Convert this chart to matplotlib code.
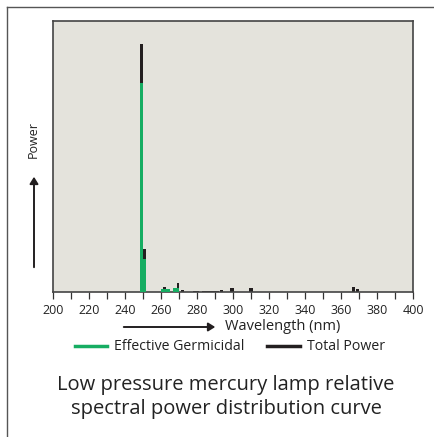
import numpy as np
import matplotlib
matplotlib.use("Agg")
import matplotlib.pyplot as plt
from matplotlib.lines import Line2D

plt.rcParams['font.family'] = ['Open Sans', 'DejaVu Sans']

# spectral lines (nm, relative power, band width nm)
total_wl = [249, 251, 262, 264, 269.5, 272, 279.5, 287.5, 293.5, 299.5, 310, 367, 369]
total_pw = [91.5, 16, 1.7, 0.6, 3.4, 0.8, 0.4, 0.4, 0.9, 1.6, 1.6, 2.0, 1.2]
total_bw = [1.6, 1.6, 1.4, 1.5, 1.5, 1.6, 3.0, 9.0, 1.5, 2.0, 2.0, 2.0, 1.5]

germ_wl = [249, 251, 262.5, 268.5]
germ_pw = [77, 12, 1.0, 1.5]
germ_bw = [1.6, 1.5, 5.0, 3.5]

xticks = np.arange(200, 401, 10)
xlabels = [str(t) if t % 20 == 0 else '' for t in xticks]

green = '#16ad62'
black = '#231f20'

fig = plt.figure(figsize=(4.35, 4.37), dpi=100)
ax = fig.add_axes([53/435, 1-292/437, 360/435, 271/437])
ax.set_facecolor('#e4e3dc')

ax.bar(total_wl, total_pw, width=total_bw, color=black, linewidth=0, zorder=2)
ax.bar(germ_wl, germ_pw, width=germ_bw, color=green, linewidth=0, zorder=3)

ax.set_xlim(200, 400)
ax.set_ylim(0, 100)
ax.set_xticks(xticks)
ax.set_xticklabels(xlabels, fontsize=9, color='#222222')
ax.set_yticks([])
ax.tick_params(axis='x', direction='out', length=5, width=0.9, color='#333333', pad=4)
for s in ax.spines.values():
    s.set_color('#444444')
    s.set_linewidth(1.2)

# outer frame (open on right/bottom, cropped)
fig.add_artist(Line2D([7/435, 7/435], [0, 1-7/437], transform=fig.transFigure,
                      color='#555555', lw=1))
fig.add_artist(Line2D([7/435, 1], [1-7/437, 1-7/437], transform=fig.transFigure,
                      color='#555555', lw=1))

# y axis arrow and label
fig.add_artist(matplotlib.patches.FancyArrowPatch(
    (34/435, 1-270/437), (34/435, 1-174/437), transform=fig.transFigure,
    arrowstyle='-|>,head_length=4,head_width=2.5', color=black, lw=1.4))
fig.text(33/435, 1-139/437, 'Power', rotation=90, ha='center', va='center',
         fontsize=9, color='#222222')

# x axis arrow and label
fig.add_artist(matplotlib.patches.FancyArrowPatch(
    (121/435, 1-327/437), (218/435, 1-327/437), transform=fig.transFigure,
    arrowstyle='-|>,head_length=4,head_width=2.5', color=black, lw=1.4))
fig.text(225/435, 1-326/437, 'Wavelength (nm)', ha='left', va='center',
         fontsize=10.5, color='#222222')

# legend
handles = [Line2D([], [], color=green, lw=2.5), Line2D([], [], color=black, lw=2.5)]
fig.legend(handles, ['Effective Germicidal', 'Total Power'], loc='center',
           bbox_to_anchor=(230/435, 1-347/437), ncol=2, frameon=False,
           fontsize=10.2, handlelength=2.3, handletextpad=0.5, columnspacing=1.6,
           borderpad=0, labelcolor='#222222')

fig.text(226/435, 1-385/437, 'Low pressure mercury lamp relative', ha='center',
         va='center', fontsize=14.5, color='#222222')
fig.text(226/435, 1-409/437, 'spectral power distribution curve', ha='center',
         va='center', fontsize=14.5, color='#222222')

fig.savefig('out.png', dpi=100)
